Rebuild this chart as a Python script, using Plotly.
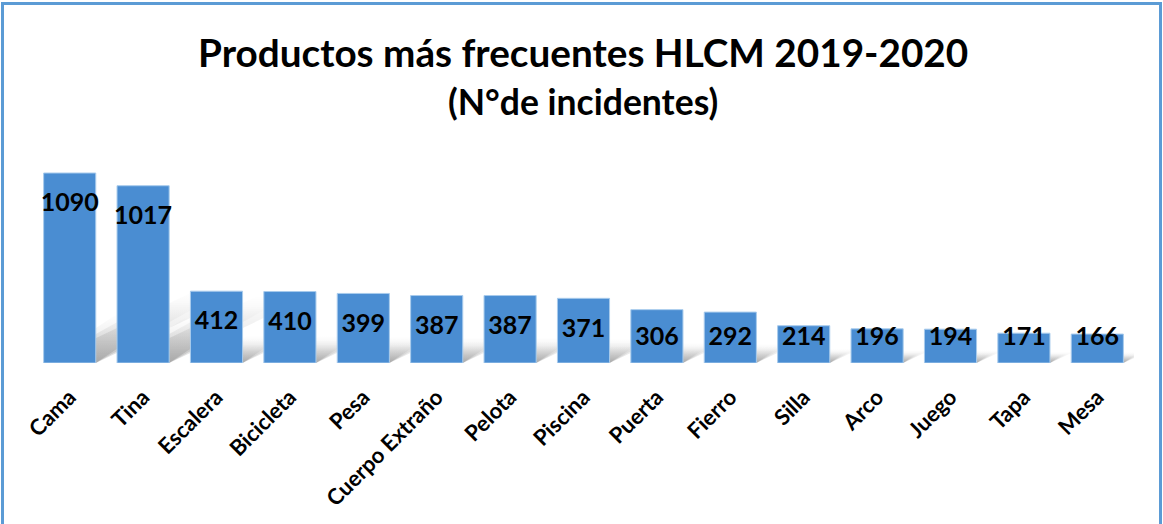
import plotly.graph_objects as go

categories = ["Cama", "Tina", "Escalera", "Bicicleta", "Pesa", "Cuerpo Extraño", "Pelota",
              "Piscina", "Puerta", "Fierro", "Silla", "Arco", "Juego", "Tapa", "Mesa"]
values = [1090, 1017, 412, 410, 399, 387, 387, 371, 306, 292, 214, 196, 194, 171, 166]

W, H = 1163, 524
ML, MR, MT, MB = 33, 29, 150, 161
YMAX = 1222
plot_h = H - MT - MB
plot_w = W - ML - MR
units_per_px = YMAX / plot_h
idx = list(range(len(categories)))
XR = [-0.5, len(categories) - 0.5]
px_per_xunit = plot_w / len(categories)
BARW = 0.71

# label positions: ~32px below bar top, but not lower than ~24px above baseline
label_y = [max(v - 32 * units_per_px, 24 * units_per_px) for v in values]

FONT = "Lato"

fig = go.Figure()

# soft perspective shadows behind the bars (main axes, drawn below the overlay axes)
for hf, skf in [(0.26, 1.5), (0.32, 1.8), (0.38, 2.1)]:
    for i, v in zip(idx, values):
        sh = v * hf
        sk = skf * (sh / units_per_px) / px_per_xunit
        xs = [i - BARW / 2, i + BARW / 2, i + BARW / 2 + sk, i - BARW / 2 + sk, i - BARW / 2]
        ys = [0, 0, sh, sh, 0]
        fig.add_trace(go.Scatter(
            x=xs, y=ys, mode="lines", line=dict(width=0), fill="toself",
            fillgradient=dict(type="vertical", start=0, stop=sh,
                              colorscale=[[0, "rgba(0,0,0,0.13)"], [1, "rgba(0,0,0,0)"]]),
            hoverinfo="skip", xaxis="x", yaxis="y",
        ))

fig.add_trace(go.Bar(
    x=idx, y=values, width=BARW,
    marker=dict(color="#4a8dd2", line=dict(color="#a8cbec", width=1)),
    hovertext=categories, hoverinfo="text+y", xaxis="x2", yaxis="y2",
))
fig.add_trace(go.Scatter(
    x=idx, y=label_y, mode="text",
    text=[str(v) for v in values],
    textfont=dict(family=FONT, size=25, color="black", weight="bold"),
    hoverinfo="skip", xaxis="x2", yaxis="y2",
))

def px_to_paper_x(px):
    return (px - ML) / plot_w

def px_to_paper_y(py):
    return (H - MB - py) / plot_h

fig.add_shape(type="rect", xref="paper", yref="paper",
              x0=px_to_paper_x(2.5), x1=px_to_paper_x(1160.5),
              y0=px_to_paper_y(H + 10), y1=px_to_paper_y(3.5),
              line=dict(color="#5b9bd5", width=3), fillcolor="rgba(0,0,0,0)", layer="below")

fig.add_annotation(text="<b>Productos más frecuentes HLCM 2019-2020</b>",
                   xref="paper", yref="paper", x=px_to_paper_x(W / 2 + 1), y=px_to_paper_y(52),
                   xanchor="center", yanchor="middle", showarrow=False,
                   font=dict(family=FONT, size=38.7, color="black"))
fig.add_annotation(text="<b>(N°de incidentes)</b>",
                   xref="paper", yref="paper", x=px_to_paper_x(W / 2 + 1), y=px_to_paper_y(101),
                   xanchor="center", yanchor="middle", showarrow=False,
                   font=dict(family=FONT, size=35.5, color="black"))

fig.update_layout(
    width=W, height=H,
    margin=dict(l=ML, r=MR, t=MT, b=MB, autoexpand=False),
    paper_bgcolor="white", plot_bgcolor="white",
    showlegend=False,
    font=dict(family=FONT),
    xaxis=dict(range=XR, tickmode="array", tickvals=idx, ticktext=categories,
               tickangle=-45, tickfont=dict(family=FONT, size=22, color="black", weight="bold"),
               showline=False, showgrid=False, zeroline=False, ticks="", ticklabelstandoff=16,
               automargin=False, fixedrange=True),
    yaxis=dict(range=[0, YMAX], visible=False, showgrid=False, automargin=False, fixedrange=True),
    xaxis2=dict(range=XR, overlaying="x", visible=False, showgrid=False, automargin=False,
                fixedrange=True),
    yaxis2=dict(range=[0, YMAX], overlaying="y", visible=False, showgrid=False, automargin=False,
                fixedrange=True),
)

fig.write_html("out.html", post_script="document.body.style.margin='0';",
               config={"displayModeBar": False})
